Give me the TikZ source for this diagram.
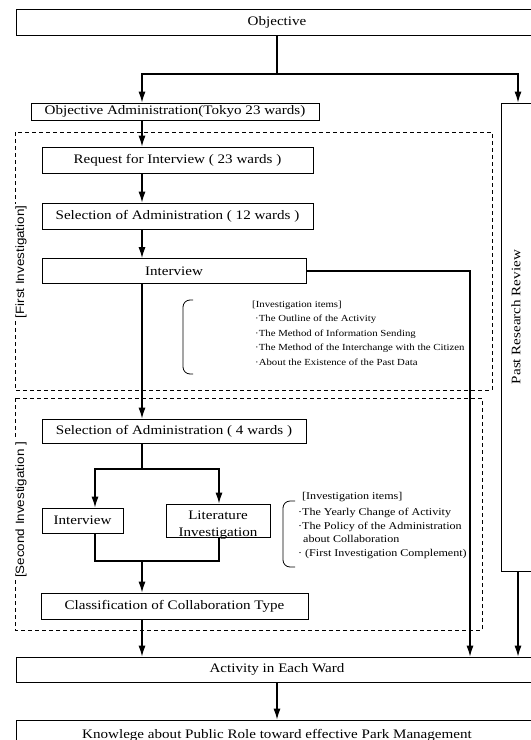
\documentclass[tikz,border=0pt]{standalone}
\usepackage{fontspec}
\setmainfont{Liberation Serif}[FakeStretch=1.16]
\newfontfamily\sidefont{Liberation Sans}[FakeStretch=1.12]
\usetikzlibrary{arrows.meta}
\begin{document}
\begin{tikzpicture}[x=1bp,y=-1bp,
  box/.style={draw, line width=0.8bp, inner sep=0pt, font=\fontsize{13bp}{15bp}\selectfont},
  txt/.style={inner sep=0pt, font=\fontsize{13bp}{17bp}\selectfont},
  arr/.style={line width=1.1bp, -{Latex[length=11bp,width=7bp]}},
  conn/.style={line width=1.1bp},
  frame/.style={dash pattern=on 4bp off 3bp, line width=0.7bp},
  itemA/.style={anchor=base west, inner sep=0pt, font=\fontsize{9.3bp}{11bp}\selectfont},
  itemB/.style={anchor=base west, inner sep=0pt, font=\fontsize{10.4bp}{12bp}\selectfont},
  brace/.style={line width=0.8bp, rounded corners=7bp},
  side/.style={rotate=90, fill=white, inner sep=2bp, font=\sidefont\fontsize{12bp}{14bp}\selectfont}
]
\useasboundingbox (0,0) rectangle (531,740);
\clip (0,0) rectangle (531,740);

% helper x positions
\coordinate (X1) at (142,0);
\coordinate (X2) at (95,0);
\coordinate (X3) at (219,0);
\coordinate (Xm) at (470,0);
\coordinate (Xr) at (518,0);
\coordinate (split) at (277,74);
\coordinate (s2) at (142,469);
\coordinate (j) at (142,561);

% dashed frames
\draw[frame] (15,132) rectangle (492,390);
\draw[frame] (15,398) rectangle (482,630);
\node[side] (lab1) at (21,262) {[First Investigation]};
\node[side] (lab2) at (21,510) {[Second Investigation ]};

% boxes
\node[box, minimum width=522bp, minimum height=26bp] (obj) at (277,22.5) {Objective};
\node[box, minimum width=288bp, minimum height=17bp] (oadm) at (175,111.5) {Objective Administration(Tokyo 23 wards)};
\node[box, minimum width=37bp, minimum height=468bp] (prr) at (519.5,337) {};
\node[txt, rotate=90] (prrt) at (516,317) {Past Research Review};
\node[box, minimum width=271bp, minimum height=26bp] (req) at (177.5,160) {Request for Interview ( 23 wards )};
\node[box, minimum width=271bp, minimum height=26bp] (sel12) at (177.5,216) {Selection of Administration ( 12 wards )};
\node[box, minimum width=264bp, minimum height=25bp] (int1) at (174,271) {Interview};
\node[box, minimum width=264bp, minimum height=24bp] (sel4) at (174,431) {Selection of Administration ( 4 wards )};
\node[box, minimum width=81bp, minimum height=25bp] (int2) at (82.5,520.5) {Interview};
\node[box, minimum width=104bp, minimum height=33bp] (lit) at (218,520.5) {};
\node[txt, align=center] (litt) at (218,525.5) {Literature\\Investigation};
\node[box, minimum width=267bp, minimum height=26bp] (cls) at (174.5,606) {Classification of Collaboration Type};
\node[box, minimum width=522bp, minimum height=25bp] (act) at (277,669.5) {Activity in Each Ward};
\node[box, minimum width=522bp, minimum height=30bp] (kno) at (277,735) {Knowlege about Public Role toward effective Park Management};

% investigation items (first)
\draw[brace] (193,300) -- (183,300) -- (183,374) -- (193,374);
\node[itemA] (a0) at (252,307) {[Investigation items]};
\node[itemA] (a1) at (255,321.5) {·The Outline of the Activity};
\node[itemA] (a2) at (255,336) {·The Method of Information Sending};
\node[itemA] (a3) at (255,350.5) {·The Method of the Interchange with the Citizen};
\node[itemA] (a4) at (255,365) {·About the Existence of the Past Data};

% investigation items (second)
\draw[brace] (295,501) -- (283,501) -- (283,567) -- (295,567);
\node[itemB] (b0) at (302,499) {[Investigation items]};
\node[itemB] (b1) at (298,515.5) {·The Yearly Change of Activity};
\node[itemB] (b2) at (298,529) {·The Policy of the Administration};
\node[itemB] (b3) at (303,542.5) {about Collaboration};
\node[itemB] (b4) at (298,556) {· (First Investigation Complement)};

% connectors
\draw[conn] (obj.south) -- (split);
\draw[arr] (split) -| (X1 |- oadm.north);
\draw[arr] (split) -| (Xr |- prr.north);
\draw[arr] (X1 |- oadm.south) -- (X1 |- req.north);
\draw[arr] (X1 |- req.south) -- (X1 |- sel12.north);
\draw[arr] (X1 |- sel12.south) -- (X1 |- int1.north);
\draw[arr] (X1 |- int1.south) -- (X1 |- sel4.north);
\draw[arr] (int1.east) -| (Xm |- act.north);
\draw[conn] (X1 |- sel4.south) -- (s2);
\draw[arr] (s2) -| (X2 |- int2.north);
\draw[arr] (s2) -| (X3 |- lit.north);
\draw[conn] (X2 |- int2.south) |- (X3 |- j) -- (X3 |- lit.south);
\draw[arr] (j) -- (X1 |- cls.north);
\draw[arr] (X1 |- cls.south) -- (X1 |- act.north);
\draw[arr] (Xr |- prr.south) -- (Xr |- act.north);
\draw[arr] (act.south) -- (kno.north);
\end{tikzpicture}
\end{document}
